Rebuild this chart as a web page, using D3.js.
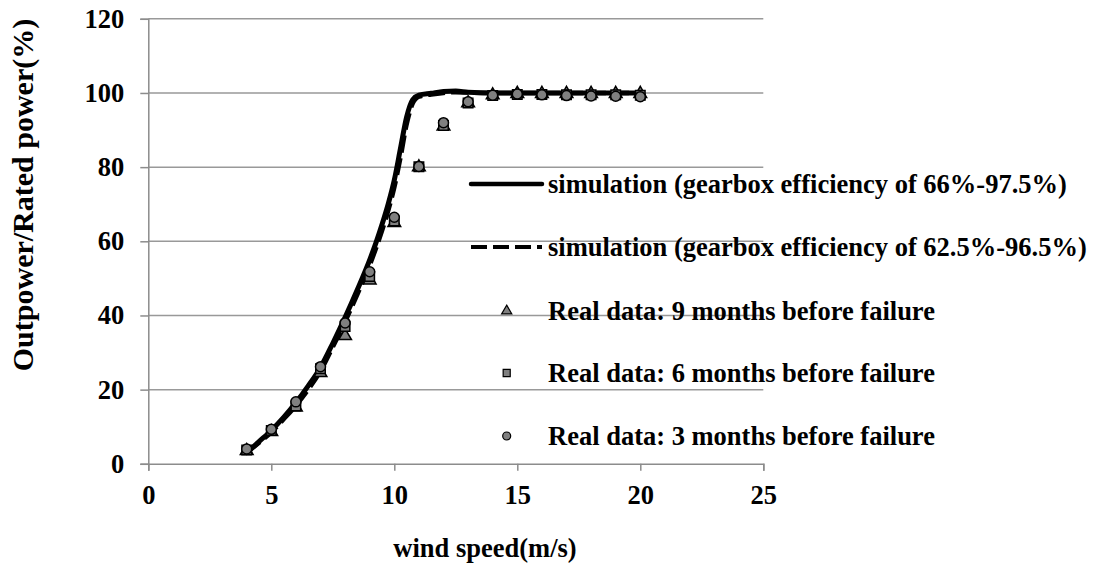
<!DOCTYPE html>
<html>
<head>
<meta charset="utf-8">
<script src="https://cdn.jsdelivr.net/npm/d3@7"></script>
<style>
  html, body { margin: 0; padding: 0; background: #fff; }
  svg { display: block; }
  text { font-family: "Liberation Serif", "Times New Roman", serif; font-weight: bold; fill: #000; }
</style>
</head>
<body>
<svg id="chart" width="1097" height="565"></svg>
<script>
// ---- data ----
const xTicks = [0, 5, 10, 15, 20, 25];
const yTicks = [0, 20, 40, 60, 80, 100, 120];

const simSpeed = [4, 4.5, 5, 5.5, 6, 6.5, 7, 7.5, 8, 8.5, 9, 9.25, 9.5, 9.75, 10, 10.25, 10.5, 10.75, 11, 11.5, 12, 12.5, 13, 14, 15, 16, 17, 18, 19, 20];
const simHigh = [3, 6, 9, 12.5, 16.5, 21, 26, 32.5, 39.5, 47, 55, 59.5, 64.5, 70, 76.5, 85, 93.5, 98.2, 99.4, 99.9, 100.4, 100.5, 100.2, 100, 100, 100, 100, 100, 100, 100];
const simLow  = [3, 5.7, 8.5, 12, 15.7, 20, 25, 31.5, 38.3, 45.7, 53.5, 58, 62.8, 68.2, 74.5, 82.5, 91.5, 97.2, 99, 99.6, 100, 100.2, 100.1, 100, 100, 100, 100, 100, 100, 99.9];

const dataSpeed = [4, 5, 6, 7, 8, 9, 10, 11, 12, 13, 14, 15, 16, 17, 18, 19, 20];
const months9 = [3.5, 8.6, 15.2, 24.5, 34.5, 49.5, 65, 80, 91, 97.3, 99.4, 99.8, 99.8, 99.8, 99.8, 99.8, 99.8];
const months6 = [3.7, 9, 15.6, 25.6, 37, 50.5, 65.5, 80.1, 91.2, 97.3, 99.3, 99.6, 99.6, 99.5, 99.5, 99.5, 99.4];
const months3 = [4, 9.3, 16.7, 26.2, 38, 51.8, 66.5, 80.2, 92, 97.6, 99.4, 99.7, 99.5, 99.3, 99.2, 99.1, 99];

const legendLabels = [
  "simulation (gearbox efficiency of 66%-97.5%)",
  "simulation (gearbox efficiency of 62.5%-96.5%)",
  "Real data: 9 months before failure",
  "Real data: 6 months before failure",
  "Real data: 3 months before failure"
];

// ---- chart ----
const svg = d3.select("#chart");
const x = d3.scaleLinear().domain([0, 25]).range([148.3, 763.3]);
const y = d3.scaleLinear().domain([0, 120]).range([463.8, 18.8]);
const gridColor = "#999999";
const axisColor = "#8c8c8c";
const fontSize = 26.5;

// gridlines
svg.append("g").selectAll("line").data(yTicks.filter(d => d > 0)).join("line")
  .attr("x1", x(0)).attr("x2", x(25))
  .attr("y1", d => y(d)).attr("y2", d => y(d))
  .attr("stroke", gridColor).attr("stroke-width", 1.5);

// x axis
const xAxis = d3.axisBottom(x).tickValues(xTicks).tickSize(7).tickPadding(14).tickFormat(d3.format("d"));
const gx = svg.append("g").attr("transform", `translate(0,${y(0)})`).call(xAxis);
gx.select(".domain").attr("stroke", axisColor).attr("stroke-width", 1.5);
gx.selectAll(".tick line").attr("stroke", axisColor).attr("stroke-width", 1.5);
gx.selectAll(".tick text").attr("font-size", fontSize).attr("font-family", null).attr("dy", "0.71em");

// y axis
const yAxis = d3.axisLeft(y).tickValues(yTicks).tickSize(8).tickPadding(16).tickFormat(d3.format("d"));
const gy = svg.append("g").attr("transform", `translate(${x(0)},0)`).call(yAxis);
gy.select(".domain").attr("stroke", axisColor).attr("stroke-width", 1.5);
gy.selectAll(".tick line").attr("stroke", axisColor).attr("stroke-width", 1.5);
gy.selectAll(".tick text").attr("font-size", fontSize).attr("font-family", null);

// axis titles
svg.append("text").attr("x", 485).attr("y", 557).attr("text-anchor", "middle")
  .attr("font-size", fontSize).text("wind speed(m/s)");
svg.append("text").attr("transform", "translate(33,195) rotate(-90)").attr("text-anchor", "middle")
  .attr("font-size", 30).text("Outpower/Rated power(%)");

// simulation lines
const line = d3.line().x(d => x(d[0])).y(d => y(d[1])).curve(d3.curveMonotoneX);
svg.append("path").datum(d3.zip(simSpeed, simLow)).attr("d", line)
  .attr("fill", "none").attr("stroke", "#000").attr("stroke-width", 4.5)
  .attr("stroke-dasharray", "17,6");
svg.append("path").datum(d3.zip(simSpeed, simHigh)).attr("d", line)
  .attr("fill", "none").attr("stroke", "#000").attr("stroke-width", 5)
  .attr("stroke-linecap", "round").attr("stroke-linejoin", "round");

// markers
const markerFill = "#808080";
const tri = d3.symbol().type(d3.symbolTriangle).size(70);
const sq = d3.symbol().type(d3.symbolSquare).size(90);
const triS = d3.symbol().type(d3.symbolTriangle).size(45);
const sqS = d3.symbol().type(d3.symbolSquare).size(50);

svg.append("g").selectAll("path").data(d3.zip(dataSpeed, months9)).join("path")
  .attr("d", tri).attr("transform", d => `translate(${x(d[0])},${y(d[1])})`)
  .attr("fill", markerFill).attr("stroke", "#000").attr("stroke-width", 1.5);
svg.append("g").selectAll("path").data(d3.zip(dataSpeed, months6)).join("path")
  .attr("d", sq).attr("transform", d => `translate(${x(d[0])},${y(d[1])})`)
  .attr("fill", markerFill).attr("stroke", "#000").attr("stroke-width", 1.5);
svg.append("g").selectAll("circle").data(d3.zip(dataSpeed, months3)).join("circle")
  .attr("cx", d => x(d[0])).attr("cy", d => y(d[1])).attr("r", 5)
  .attr("fill", markerFill).attr("stroke", "#000").attr("stroke-width", 1.5);

// legend
const legRows = [184, 247, 311, 373, 436];
const lg = svg.append("g");
lg.append("line").attr("x1", 471).attr("x2", 542).attr("y1", legRows[0]).attr("y2", legRows[0])
  .attr("stroke", "#000").attr("stroke-width", 4.5).attr("stroke-linecap", "round");
lg.append("line").attr("x1", 471).attr("x2", 542).attr("y1", legRows[1]).attr("y2", legRows[1])
  .attr("stroke", "#000").attr("stroke-width", 4).attr("stroke-dasharray", "16,6");
lg.append("path").attr("d", triS).attr("transform", `translate(506.7,${legRows[2]})`)
  .attr("fill", markerFill).attr("stroke", "#000").attr("stroke-width", 1.2);
lg.append("path").attr("d", sqS).attr("transform", `translate(506.7,${legRows[3]})`)
  .attr("fill", markerFill).attr("stroke", "#000").attr("stroke-width", 1.2);
lg.append("circle").attr("cx", 506.7).attr("cy", legRows[4]).attr("r", 4)
  .attr("fill", markerFill).attr("stroke", "#000").attr("stroke-width", 1.2);
lg.selectAll("text").data(legendLabels).join("text")
  .attr("x", 548).attr("y", (d, i) => legRows[i] + 9)
  .attr("font-size", fontSize).text(d => d);
</script>
</body>
</html>
